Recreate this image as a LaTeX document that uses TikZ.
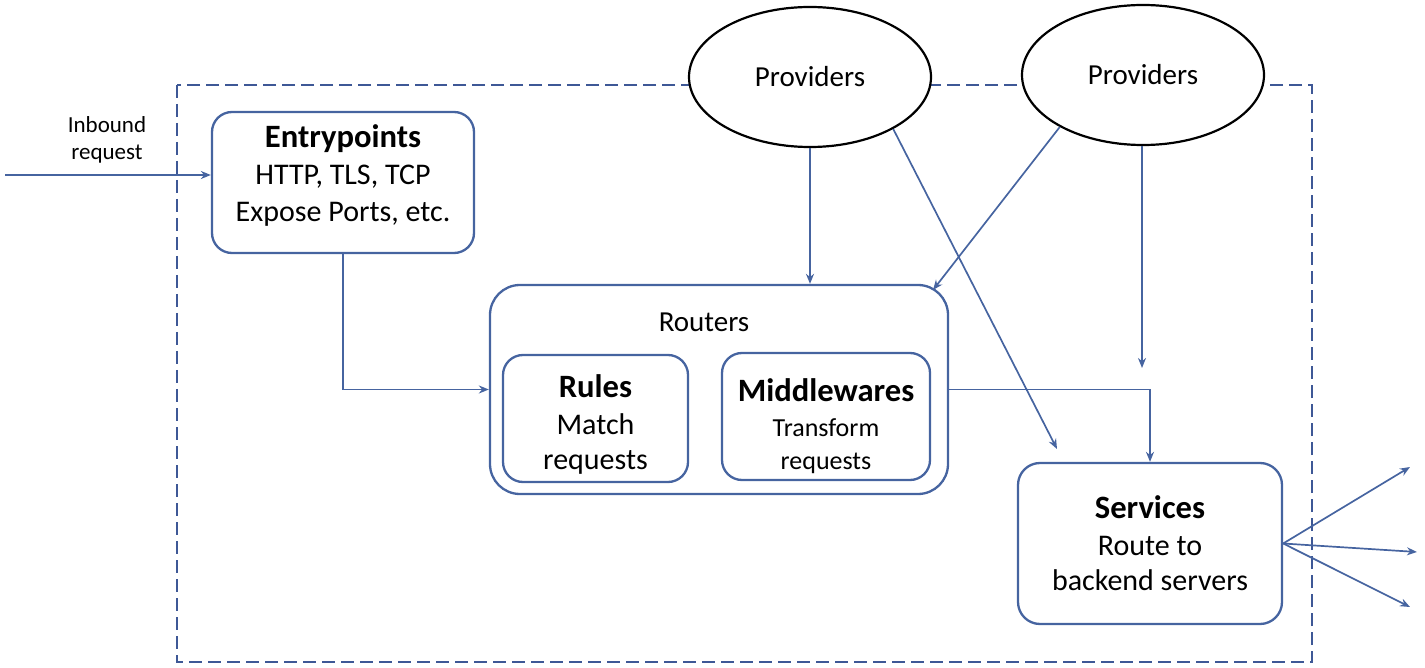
\documentclass[tikz,border=0pt]{standalone}
\usepackage{fontspec}
\setmainfont{Carlito}
\usetikzlibrary{shapes.geometric,arrows.meta}
\definecolor{lineblue}{RGB}{70,100,160}
\definecolor{frameblue}{RGB}{62,88,150}

\begin{document}
\begin{tikzpicture}[x=0.5pt, y=-0.5pt, >={Stealth[length=5pt,width=4pt]},
		box/.style={draw=lineblue, line width=1.15pt, rounded corners=10pt, align=center, inner sep=0pt, font=\fontsize{15}{18.5}\selectfont},
		prov/.style={draw=black, ellipse, fill=white, line width=1.1pt, minimum width=121pt, minimum height=70pt, inner sep=0pt, font=\fontsize{14.5}{17}\selectfont},
		arr/.style={->, draw=lineblue, line width=0.85pt}]
	\useasboundingbox (0,0) rectangle (1425,668);
	
	% === 外框 ===
	\draw[frameblue, line width=1.4pt, dash pattern=on 6.5pt off 3pt] (177,85) rectangle (1312,662);
	
	% === Providers ===
	\node[prov] (prov1) at (810,77) {Providers};
	\node[prov] (prov2) at (1143,75) {Providers};
	
	% === 盒子 ===
	\node[box, minimum width=131pt, minimum height=70.5pt] (entry) at (343,182.5)
		{{\fontsize{16.3}{18.5}\selectfont\bfseries Entrypoints}\\HTTP, TLS, TCP\\Expose Ports, etc.\\[-9pt]\mbox{}};
	\node[box, rounded corners=15pt, minimum width=229pt, minimum height=104.5pt] (routers) at (719,389.5) {};
	\node[font=\fontsize{14.5}{17}\selectfont] (routerstitle) at (704,322) {Routers};
	\node[box, minimum width=92.5pt, minimum height=63.5pt] (rules) at (595.5,418.5)
		{{\fontsize{16.3}{18.5}\selectfont\bfseries\rule{0pt}{17.6pt}Rules}\\Match\\[-1pt]requests};
	\node[box, minimum width=104pt, minimum height=63.5pt] (mid) at (826,416.5)
		{{\fontsize{16.3}{18.5}\selectfont\bfseries\rule{0pt}{20.6pt}Middlewares}\\[-1pt]{\fontsize{13}{16}\selectfont Transform}\\[-2pt]{\fontsize{13}{16}\selectfont requests}};
	\node[box, rounded corners=11pt, minimum width=132pt, minimum height=80.5pt] (services) at (1150,543.5)
		{{\fontsize{16.3}{18.5}\selectfont\bfseries Services}\\Route to\\[-1pt]backend servers};
	
	% === 入口 ===
	\node[align=center, font=\fontsize{11.5}{13.5}\selectfont] (inbound) at (107,140) {Inbound\\request};
	\coordinate (inb) at (5,175);
	\draw[arr] (inb) -- (inb -| entry.west);
	
	% === 连接 ===
	\draw[arr] (entry.south) |- (routers.west);
	\draw[arr] (routers.east) -| (services.north);
	\draw[arr] (prov1.south) -- (prov1.south |- routers.north);
	
	\coordinate (p1end) at (1057,449);
	\draw[arr] (prov1.-32) -- (p1end);
	\coordinate (p2end) at (933,290);
	\draw[arr] (prov2.212) -- (p2end);
	\coordinate (p2vend) at (1142,368);
	\draw[arr] (prov2.south -| p2vend) -- (p2vend);
	
	% === 后端 ===
	\coordinate (out1) at (1410,467);
	\coordinate (out2) at (1417,552);
	\coordinate (out3) at (1410,607);
	\foreach \o in {out1,out2,out3}
		\draw[arr] (services.east) -- (\o);
\end{tikzpicture}
\end{document}
